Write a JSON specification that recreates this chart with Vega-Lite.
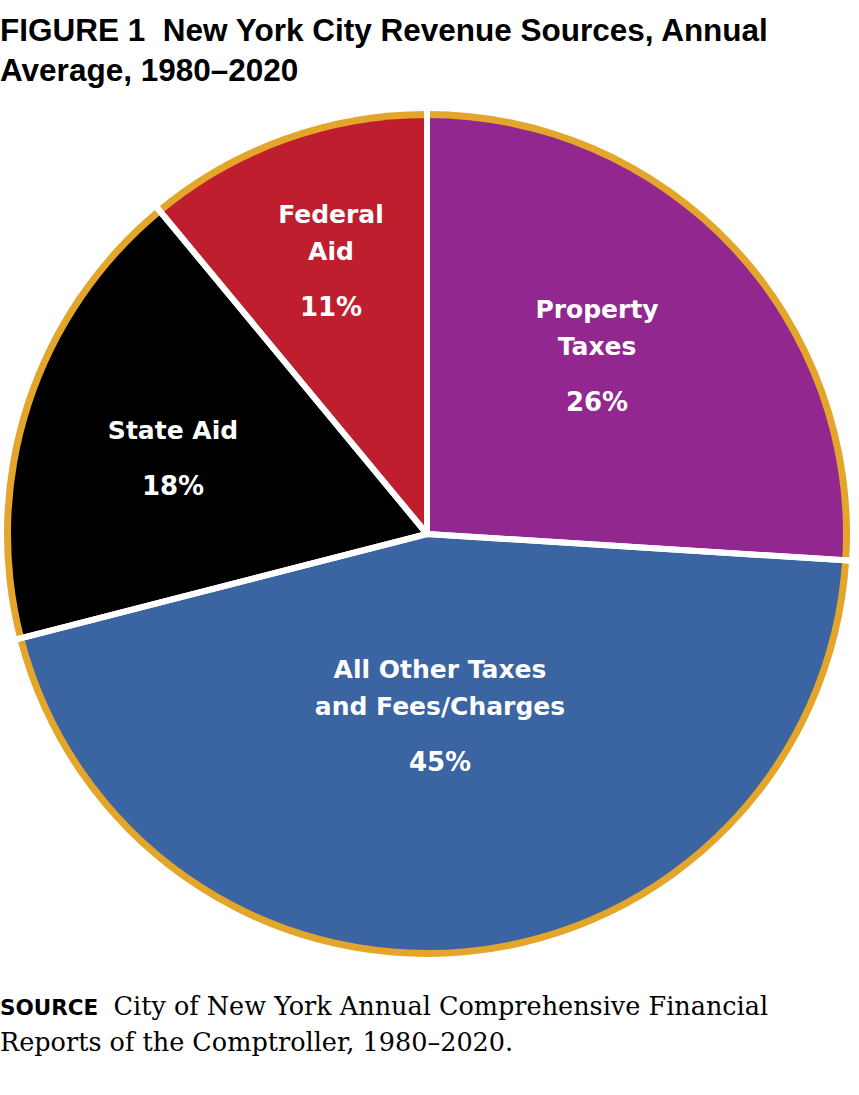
{
  "$schema": "https://vega.github.io/schema/vega-lite/v6.json",
  "background": "white",
  "padding": {"top": 15, "left": -3, "right": 0, "bottom": 0},
  "autosize": {"type": "pad"},
  "datasets": {
    "shares": [
      {"i": 1, "source": "Property Taxes", "name1": "Property", "name2": "Taxes", "value": 26, "pct": "26%"},
      {"i": 2, "source": "All Other Taxes and Fees/Charges", "name1": "All Other Taxes", "name2": "and Fees/Charges", "value": 45, "pct": "45%"},
      {"i": 3, "source": "State Aid", "name1": "", "name2": "State Aid", "value": 18, "pct": "18%"},
      {"i": 4, "source": "Federal Aid", "name1": "Federal", "name2": "Aid", "value": 11, "pct": "11%"}
    ]
  },
  "title": {
    "text": "SOURCE",
    "subtitle": ["\u200b\u00a0\u00a0\u00a0\u00a0\u00a0\u00a0\u00a0\u00a0\u00a0\u00a0\u00a0\u00a0\u00a0\u00a0City of New York Annual Comprehensive Financial", "Reports of the Comptroller, 1980–2020."],
    "orient": "bottom",
    "anchor": "start",
    "frame": "group",
    "font": "DejaVu Sans",
    "fontWeight": "bold",
    "fontSize": 21.5,
    "color": "#000000",
    "subtitleFont": "DejaVu Serif",
    "subtitleFontSize": 25.5,
    "subtitleFontWeight": "normal",
    "subtitleLineHeight": 36,
    "subtitleColor": "#000000",
    "subtitlePadding": -25,
    "offset": 34,
    "dx": 0
  },
  "vconcat": [
    {
      "width": 854,
      "height": 854,
      "data": {"name": "shares"},
      "title": {
        "text": ["FIGURE 1\u00a0 New York City Revenue Sources, Annual", "Average, 1980–2020"],
        "anchor": "start",
        "frame": "group",
        "font": "Liberation Sans",
        "fontWeight": "bold",
        "fontSize": 31.5,
        "lineHeight": 40,
        "color": "#000000",
        "offset": 17,
        "dx": 0
      },
      "resolve": {"scale": {"theta": "independent"}},
      "layer": [
        {
          "mark": {"type": "arc", "radius": 423, "fill": "#E3A52A"},
          "encoding": {
            "theta": {"field": "value", "type": "quantitative", "stack": true},
            "order": {"field": "i", "type": "quantitative"}
          }
        },
        {
          "mark": {"type": "arc", "radius": 416},
          "encoding": {
            "theta": {"field": "value", "type": "quantitative", "stack": true},
            "order": {"field": "i", "type": "quantitative"},
            "color": {
              "field": "source",
              "type": "nominal",
              "scale": {
                "domain": ["Property Taxes", "All Other Taxes and Fees/Charges", "State Aid", "Federal Aid"],
                "range": ["#92278F", "#3A64A2", "#000000", "#BE1E2D"]
              },
              "legend": null
            }
          }
        },
        {
          "mark": {"type": "arc", "radius": 427, "fill": "#ffffff", "fillOpacity": 0, "stroke": "#ffffff", "strokeWidth": 6, "strokeJoin": "round"},
          "encoding": {
            "theta": {"field": "value", "type": "quantitative", "stack": true},
            "order": {"field": "i", "type": "quantitative"}
          }
        },
        {
          "mark": {"type": "text", "fill": "#ffffff", "font": "DejaVu Sans", "fontWeight": "bold", "fontSize": 25, "baseline": "alphabetic", "align": "center", "dy": -37},
          "encoding": {
            "theta": {"field": "value", "type": "quantitative", "stack": true, "scale": {"type": "linear", "domain": [0, 13, 48.5, 80, 94.5, 100], "range": [0, 0.7596, 3.0699, 5.0704, 5.9461, 6.2832], "zero": false, "nice": false}},
            "order": {"field": "i", "type": "quantitative"},
            "radius": {"field": "value", "type": "quantitative", "scale": {"type": "linear", "domain": [11, 18, 26, 45], "range": [290.3, 271.2, 246.9, 181.5], "zero": false, "nice": false}},
            "text": {"field": "name1", "type": "nominal"}
          }
        },
        {
          "mark": {"type": "text", "fill": "#ffffff", "font": "DejaVu Sans", "fontWeight": "bold", "fontSize": 25, "baseline": "alphabetic", "align": "center"},
          "encoding": {
            "theta": {"field": "value", "type": "quantitative", "stack": true, "scale": {"type": "linear", "domain": [0, 13, 48.5, 80, 94.5, 100], "range": [0, 0.7596, 3.0699, 5.0704, 5.9461, 6.2832], "zero": false, "nice": false}},
            "order": {"field": "i", "type": "quantitative"},
            "radius": {"field": "value", "type": "quantitative", "scale": {"type": "linear", "domain": [11, 18, 26, 45], "range": [290.3, 271.2, 246.9, 181.5], "zero": false, "nice": false}},
            "text": {"field": "name2", "type": "nominal"}
          }
        },
        {
          "mark": {"type": "text", "fill": "#ffffff", "font": "DejaVu Sans", "fontWeight": "bold", "fontSize": 26, "baseline": "alphabetic", "align": "center", "dy": 56},
          "encoding": {
            "theta": {"field": "value", "type": "quantitative", "stack": true, "scale": {"type": "linear", "domain": [0, 13, 48.5, 80, 94.5, 100], "range": [0, 0.7596, 3.0699, 5.0704, 5.9461, 6.2832], "zero": false, "nice": false}},
            "order": {"field": "i", "type": "quantitative"},
            "radius": {"field": "value", "type": "quantitative", "scale": {"type": "linear", "domain": [11, 18, 26, 45], "range": [290.3, 271.2, 246.9, 181.5], "zero": false, "nice": false}},
            "text": {"field": "pct", "type": "nominal"}
          }
        }
      ]
    }
  ],
  "config": {"view": {"stroke": null}, "concat": {"spacing": 0}}
}
